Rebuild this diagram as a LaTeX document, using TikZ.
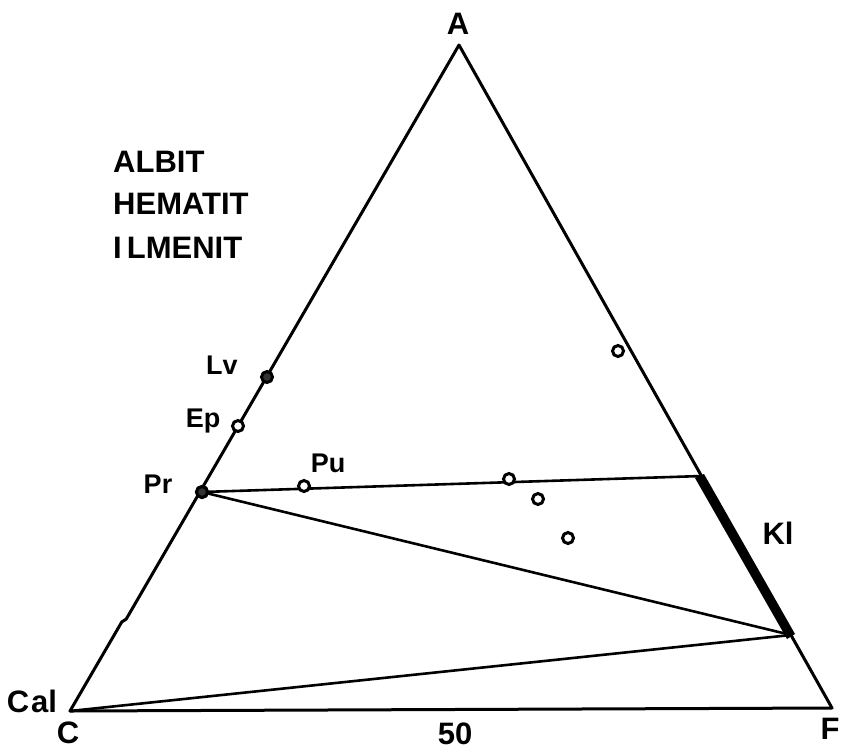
\documentclass[tikz,border=0pt]{standalone}
\usepackage{fontspec}
\setmainfont{Liberation Sans}
\begin{document}
\begin{tikzpicture}[x=1pt,y=-1pt,
  edge/.style={line width=3pt,line join=round,line cap=round},
  tie/.style={line width=2.6pt,line cap=round},
  lbl/.style={inner sep=0pt,font=\fontsize{27}{29}\selectfont\bfseries},
  biglbl/.style={inner sep=0pt,font=\fontsize{31}{33}\selectfont\bfseries},
  pt/.style={circle,draw,line width=3pt,fill=white,minimum size=11pt,inner sep=0pt},
  ptfull/.style={pt,fill=black!80}]
\useasboundingbox (0,0) rectangle (842,750);
\fill[white] (0,0) rectangle (842,750);
% corners
\coordinate (A) at (459,45);
\coordinate (C) at (70,711);
\coordinate (F) at (832,708);
\coordinate (T) at (702,476);
\coordinate (K) at (791,635);
% triangle
\draw[edge] (C) -- (120,625) .. controls (122,619) and (126,622) .. (128,616) -- (A) -- (F) -- cycle;
% thick Kl band
\fill (704,474) -- (795,634) -- (787,639) -- (695,478) -- cycle;
% tie lines
\node[ptfull] (Pr) at (202,492) {};
\draw[tie] (Pr) -- (T);
\draw[tie] (Pr) -- (K);
\draw[tie] (C) -- (K);
% points
\node[ptfull] (Lv) at (267,377) {};
\node[pt] (Ep) at (238,426) {};
\node[pt] (Pu) at (304,486) {};
\node[pt] (p1) at (509,479) {};
\node[pt] (p2) at (538,499) {};
\node[pt] (p3) at (568,538) {};
\node[pt] (p4) at (618,351) {};
\node[ptfull] at (Pr) {};
% labels
\node[biglbl] (lA) at (458,24) {A};
\node[biglbl] (lC) at (68,733) {C};
\node[biglbl] (lCal) at (32,701) {C\kern2pt al};
\node[biglbl] (l50) at (455,734) {50};
\node[biglbl] (lF) at (830,729) {F};
\node[biglbl] (lKl) at (778,533) {Kl};
\node[lbl] (lPr) at (158,484) {Pr};
\node[lbl] (lEp) at (203,421) {Ep};
\node[lbl] (lLv) at (222,365) {Lv};
\node[lbl] (lPu) at (328,463) {Pu};
\node[biglbl,anchor=west] (t1) at (113,162) {ALBIT};
\node[biglbl,anchor=west] (t2) at (113,204) {HEMATIT};
\node[biglbl,anchor=west] (t3) at (113,248) {I\kern5pt LMENIT};
\end{tikzpicture}
\end{document}
